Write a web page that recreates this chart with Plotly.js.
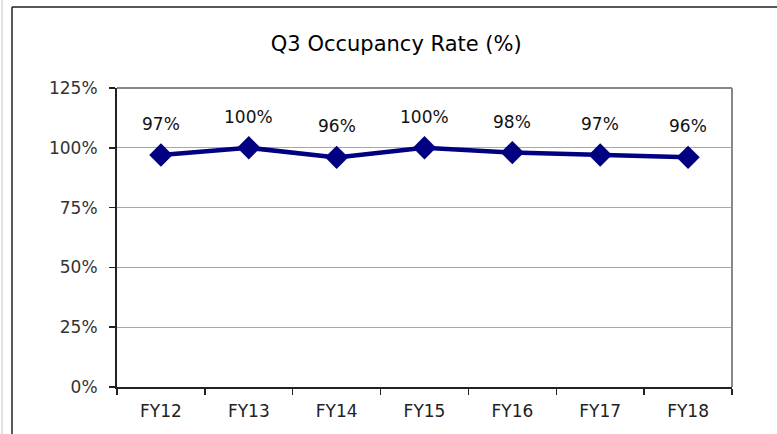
<!DOCTYPE html>
<html><head><meta charset="utf-8">
<script src="https://cdn.plot.ly/plotly-3.0.1.min.js"></script>
<style>html,body{margin:0;padding:0;background:#fff;}#chart{width:777px;height:434px;}</style>
</head><body><div id="chart"></div>
<script>
const categories = ["FY12","FY13","FY14","FY15","FY16","FY17","FY18"];
const occupancy = [97, 100, 96, 100, 98, 97, 96];
const yTickVals = [0, 25, 50, 75, 100, 125];
const yTickText = ["0%","25%","50%","75%","100%","125%"];

const F = "DejaVu Sans, sans-serif";
const trace = {
  x: categories, y: occupancy, type: "scatter", mode: "lines+markers",
  line: {color: "#000080", width: 4.5},
  marker: {symbol: "diamond", size: 18, color: "#000080"},
  hoverinfo: "skip", cliponaxis: false
};
const annotations = categories.map((c, i) => ({
  x: c, y: occupancy[i], xref: "x", yref: "y", text: occupancy[i] + "%",
  showarrow: false, yshift: 31, font: {family: F, size: 17, color: "#111"}
}));
const X = px => (px - 117) / 615, Y = py => (387 - py) / 299;
const shapes = [
  {type:"line", xref:"paper", yref:"paper", x0:X(12), x1:X(12), y0:Y(7), y1:Y(440), line:{color:"#222", width:1.5}},
  {type:"line", xref:"paper", yref:"paper", x0:X(12), x1:X(790), y0:Y(7), y1:Y(7), line:{color:"#222", width:1.5}},
  {type:"line", xref:"paper", yref:"paper", x0:X(2), x1:X(2), y0:Y(0), y1:Y(440), line:{color:"#e2e2e2", width:2}},
  {type:"line", xref:"paper", yref:"paper", x0:0, x1:1, y0:1, y1:1, line:{color:"#888", width:2}},
  {type:"line", xref:"paper", yref:"paper", x0:1, x1:1, y0:0, y1:1, line:{color:"#888", width:2}}
];
const layout = {
  width: 777, height: 434,
  margin: {l: 117, r: 45, t: 88, b: 47, pad: 0},
  paper_bgcolor: "#fff", plot_bgcolor: "#fff",
  showlegend: false,
  title: {text: "Q3 Occupancy Rate (%)", x: 0.51, xanchor: "center", y: 0.9, yanchor: "middle", yref: "container",
          font: {family: F, size: 21, color: "#000", weight: 500}},
  xaxis: {type: "category", categoryorder: "array", categoryarray: categories,
          range: [-0.5, 6.5], tickson: "boundaries", ticks: "outside", ticklen: 6, tickwidth: 1.5, tickcolor: "#222",
          ticklabelstandoff: 8,
          showline: true, linecolor: "#222", linewidth: 2, showgrid: false, zeroline: false,
          tickfont: {family: F, size: 17, color: "#222"}, fixedrange: true},
  yaxis: {range: [0, 125], tickvals: yTickVals, ticktext: yTickText, ticks: "outside", ticklen: 6, tickwidth: 1.5,
          tickcolor: "#222", showline: true, linecolor: "#222", linewidth: 2, ticklabelstandoff: 8,
          showgrid: true, gridcolor: "#a8a8a8", gridwidth: 1, zeroline: false,
          tickfont: {family: F, size: 17, color: "#333"}, fixedrange: true},
  annotations: annotations, shapes: shapes
};
Plotly.newPlot("chart", [trace], layout, {displayModeBar: false, staticPlot: true});
</script></body></html>
